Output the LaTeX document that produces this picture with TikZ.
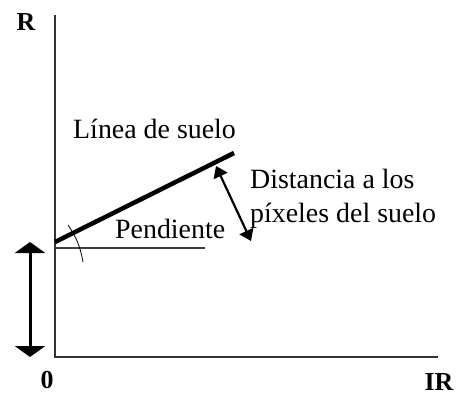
\documentclass[tikz,border=0pt]{standalone}
\usepackage{fontspec}
\setmainfont{Liberation Serif}
\usetikzlibrary{arrows.meta}
\tikzset{
  lbl/.style={font=\fontsize{28}{30}\selectfont, inner sep=0pt, anchor=base west},
  axlbl/.style={font=\fontsize{26}{28}\selectfont\bfseries, inner sep=0pt},
  axis/.style={line width=1.6bp, black!80},
  thin/.style={line width=1.2bp, black!75},
}
\begin{document}
\begin{tikzpicture}[x=1bp,y=-1bp]
\useasboundingbox (0,0) rectangle (457,395);
% axes
\coordinate (ytop) at (55,15);
\coordinate (o) at (55,357);
\coordinate (xend) at (438,357);
\draw[axis] (ytop) -- (o) -- (xend);
\node[axlbl] (R) at (26,22) {R};
\node[axlbl] (zero) at (47,380) {0};
\node[axlbl] (IR) at (439,382) {IR};
% soil line
\coordinate (s0) at (55,242);
\coordinate (s1) at (234,153);
\draw[line width=4.5bp] (s0) -- (s1);
% horizontal reference
\coordinate (h0) at (55,248);
\coordinate (h1) at (205,248);
\draw[thin] (h0) -- (h1);
% angle mark
\coordinate (a0) at (68,225);
\coordinate (a1) at (83,262);
\draw[line width=0.8bp] (a0) to[bend left=12] (a1);
% intercept arrow
\coordinate (i0) at (30,242);
\coordinate (i1) at (30,357);
\draw[line width=3bp, {Triangle[width=30bp,length=11bp]}-{Triangle[width=30bp,length=11bp]}] (i0) -- (i1);
% distance arrow
\coordinate (d0) at (216,166);
\coordinate (d1) at (251,241);
\draw[line width=2.2bp, {Triangle[width=15bp,length=11bp]}-{Triangle[width=15bp,length=11bp]}] (d0) -- (d1);
% labels
\node[lbl] (linea) at (73,138) {Línea de suelo};
\node[lbl] (dist1) at (250,188) {Distancia a los};
\node[lbl] (dist2) at (250,222) {píxeles del suelo};
\node[lbl] (pend) at (115,238) {Pendiente};
\end{tikzpicture}
\end{document}
